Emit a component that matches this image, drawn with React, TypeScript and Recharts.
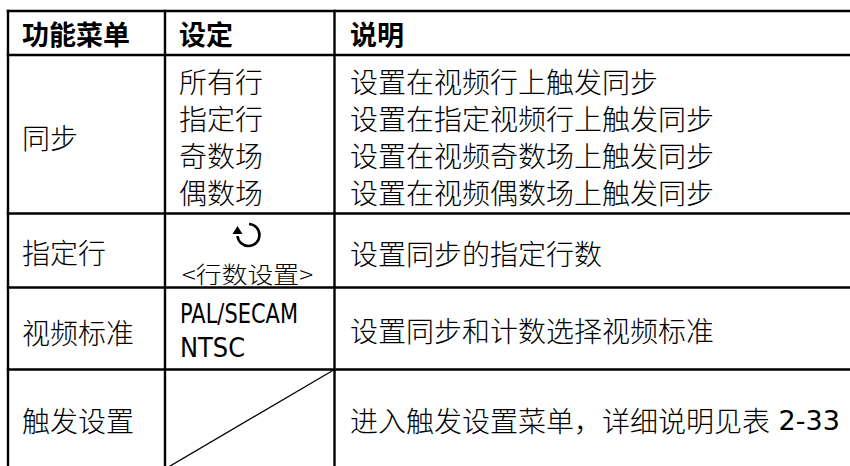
import React from 'react';
import { ScatterChart, Scatter, XAxis, YAxis, ReferenceLine } from 'recharts';

// ---- table content ----
const headers = ['功能菜单', '设定', '说明'];
const menuItems = ['同步', '指定行', '视频标准', '触发设置'];
const syncOptions = ['所有行', '指定行', '奇数场', '偶数场'];
const syncDescriptions = [
  '设置在视频行上触发同步',
  '设置在指定视频行上触发同步',
  '设置在视频奇数场上触发同步',
  '设置在视频偶数场上触发同步',
];
const lineSetting = '<行数设置>';
const videoStandards = ['PAL/SECAM', 'NTSC'];
const menuDescriptions = [
  '设置同步的指定行数',
  '设置同步和计数选择视频标准',
  '进入触发设置菜单，详细说明见表',
];
const tableRef = ' 2-33';

// ---- layout ----
const W = 850;
const H = 466;
const COL_LINES = [8, 165, 334.5];
const ROW_LINES = [11, 55, 213.5, 287.5, 369.5];
const TEXT_X = [22, 179, 350];
const HEADER_Y = 33.5;
const SYNC_Y0 = 81;
const SYNC_STEP = 37;
const MENU_Y = [137, 252, 332, 420];
const DESC_Y = [253, 330, 420];

const CJK = "'Noto Sans CJK SC', 'Noto Sans', sans-serif";
const LATIN = "'DejaVu Sans', 'Noto Sans CJK SC', sans-serif";

type Cell = { x: number; y: number; text: string; kind: string; len?: number };

const cells: Cell[] = [];
headers.forEach((t, i) => cells.push({ x: TEXT_X[i], y: HEADER_Y, text: t, kind: 'header' }));
menuItems.forEach((t, i) => cells.push({ x: TEXT_X[0], y: MENU_Y[i], text: t, kind: 'body' }));
syncOptions.forEach((t, i) => cells.push({ x: TEXT_X[1], y: SYNC_Y0 + i * SYNC_STEP, text: t, kind: 'body' }));
syncDescriptions.forEach((t, i) => cells.push({ x: TEXT_X[2], y: SYNC_Y0 + i * SYNC_STEP, text: t, kind: 'body' }));
cells.push({ x: 248, y: 235, text: '', kind: 'icon' });
cells.push({ x: 247.5, y: 272.5, text: lineSetting, kind: 'small', len: 131 });
cells.push({ x: 180, y: 313, text: videoStandards[0], kind: 'latin', len: 118 });
cells.push({ x: 180, y: 347, text: videoStandards[1], kind: 'latin', len: 65 });
cells.push({ x: TEXT_X[2], y: DESC_Y[0], text: menuDescriptions[0], kind: 'body' });
cells.push({ x: TEXT_X[2], y: DESC_Y[1], text: menuDescriptions[1], kind: 'body' });
cells.push({ x: TEXT_X[2], y: DESC_Y[2], text: menuDescriptions[2], kind: 'bodyRef' });

const CellShape = (props: any) => {
  const { cx, cy, payload } = props;
  if (cx == null || cy == null) return <g />;
  const p = payload as Cell;
  if (p.kind === 'icon') {
    const r = 11;
    return (
      <g>
        <path
          d={`M ${cx + 1} ${cy - r} A ${r} ${r} 0 1 1 ${cx - r + 0.5} ${cy + 1}`}
          fill="none"
          stroke="#000"
          strokeWidth={2.6}
        />
        <path
          d={`M ${cx - r - 4.5} ${cy - 1} L ${cx - r + 5.5} ${cy - 1} L ${cx - r + 0.5} ${cy - 9} Z`}
          fill="#000"
        />
      </g>
    );
  }
  if (p.kind === 'header') {
    return (
      <text x={cx} y={cy} dominantBaseline="central" fontFamily={CJK} fontWeight={700} fontSize={27} fill="#000">
        {p.text}
      </text>
    );
  }
  if (p.kind === 'small') {
    return (
      <text
        x={cx}
        y={cy}
        dominantBaseline="central"
        textAnchor="middle"
        fontFamily={CJK}
        fontWeight={300}
        fontSize={23}
        fill="#000"
        textLength={p.len}
        lengthAdjust="spacingAndGlyphs"
      >
        {p.text}
      </text>
    );
  }
  if (p.kind === 'latin') {
    return (
      <text
        x={cx}
        y={cy}
        dominantBaseline="central"
        fontFamily={LATIN}
        fontSize={27}
        fill="#000"
        textLength={p.len}
        lengthAdjust="spacingAndGlyphs"
      >
        {p.text}
      </text>
    );
  }
  if (p.kind === 'bodyRef') {
    return (
      <text x={cx} y={cy} dominantBaseline="central" fontFamily={CJK} fontWeight={300} fontSize={28} fill="#000">
        {p.text}
        <tspan fontFamily={LATIN} fontWeight={400} fontSize={27}>
          {tableRef}
        </tspan>
      </text>
    );
  }
  return (
    <text x={cx} y={cy} dominantBaseline="central" fontFamily={CJK} fontWeight={300} fontSize={28} fill="#000">
      {p.text}
    </text>
  );
};

const LINE = { stroke: '#000', strokeWidth: 2.4, ifOverflow: 'visible' as const };

export default function App() {
  const top = ROW_LINES[0];
  return (
    <div style={{ position: 'absolute', left: 0, top: 0, width: W, height: H, background: '#fff' }}>
      <ScatterChart width={W} height={H} margin={{ top: 0, right: 0, bottom: 0, left: 0 }}>
        <XAxis type="number" dataKey="x" domain={[0, W]} hide allowDataOverflow />
        <YAxis type="number" dataKey="y" domain={[0, H]} reversed hide allowDataOverflow />
        {ROW_LINES.map((y) => (
          <ReferenceLine
            key={`r${y}`}
            segment={[{ x: COL_LINES[0] - 1.2, y }, { x: W, y }]}
            {...LINE}
          />
        ))}
        {COL_LINES.map((x) => (
          <ReferenceLine
            key={`c${x}`}
            segment={[{ x, y: top - 1.2 }, { x, y: H }]}
            {...LINE}
          />
        ))}
        <ReferenceLine
          segment={[{ x: COL_LINES[2], y: ROW_LINES[4] }, { x: COL_LINES[1], y: 469 }]}
          stroke="#000"
          strokeWidth={1.3}
          ifOverflow="visible"
        />
        <Scatter data={cells} shape={CellShape} isAnimationActive={false} />
      </ScatterChart>
    </div>
  );
}
